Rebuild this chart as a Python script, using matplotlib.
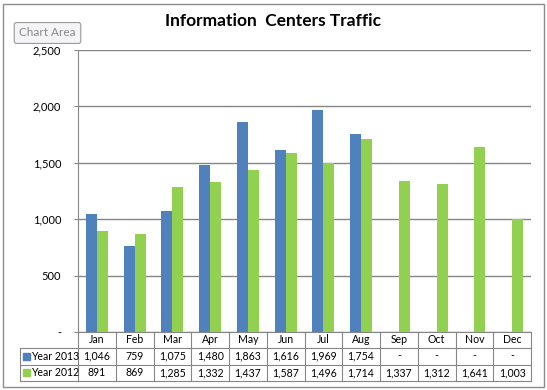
import matplotlib.pyplot as plt
import matplotlib.transforms as mtransforms
from matplotlib.patches import Rectangle

months = ["Jan", "Feb", "Mar", "Apr", "May", "Jun", "Jul", "Aug", "Sep", "Oct", "Nov", "Dec"]
year_2013 = [1046, 759, 1075, 1480, 1863, 1616, 1969, 1754, None, None, None, None]
year_2012 = [891, 869, 1285, 1332, 1437, 1587, 1496, 1714, 1337, 1312, 1641, 1003]
series_names = ["Year 2013", "Year 2012"]
yticks = [0, 500, 1000, 1500, 2000, 2500]

blue = "#4F81BD"
green = "#92D050"
grid_col = "#868686"
plt.rcParams["font.family"] = ["Lato", "DejaVu Sans"]

W, H = 547, 390
fig = plt.figure(figsize=(W / 100, H / 100), dpi=100)
ax = fig.add_axes([78 / W, 1 - 332 / H, (531 - 78) / W, (332 - 50) / H])

x = list(range(len(months)))
bw = 0.29
v13 = [v if v is not None else 0 for v in year_2013]
ax.bar([i - bw / 2 for i in x], v13, width=bw, color=blue, zorder=3)
ax.bar([i + bw / 2 for i in x], year_2012, width=bw, color=green, zorder=3)

ax.set_xlim(-0.5, len(months) - 0.5)
ax.set_ylim(0, 2500)
ax.set_yticks(yticks)
ax.set_yticklabels(["-" if t == 0 else f"{t:,}" for t in yticks], fontsize=8)
ax.tick_params(axis="y", length=3, color=grid_col, pad=9)
ax.set_xticks([])
ax.yaxis.grid(True, color=grid_col, linewidth=1, zorder=0)
for s in ["top", "right", "bottom"]:
    ax.spines[s].set_visible(False)
ax.spines["left"].set_color(grid_col)

# data table under the plot
trans = mtransforms.blended_transform_factory(ax.transData, ax.transAxes)
ph = 332 - 50
pw = 531 - 78
rows = [0, -15.5 / ph, -32.5 / ph, -49 / ph]
lw = 0.8
for r in rows:
    ax.plot([-0.5, 11.5], [r, r], transform=trans, color=grid_col, lw=lw, clip_on=False)
for b in [i - 0.5 for i in range(13)]:
    ax.plot([b, b], [0, rows[3]], transform=trans, color=grid_col, lw=lw, clip_on=False)
left_ax = (20 - 78) / pw
for r in rows[1:]:
    ax.plot([left_ax, 0], [r, r], transform=ax.transAxes, color=grid_col, lw=lw, clip_on=False)
ax.plot([left_ax, left_ax], [rows[1], rows[3]], transform=ax.transAxes, color=grid_col, lw=lw, clip_on=False)

fs = 7.6
for i, m in enumerate(months):
    ax.text(i, (rows[0] + rows[1]) / 2, m, transform=trans, ha="center", va="center", fontsize=fs)
    a = year_2013[i]
    ax.text(i, (rows[1] + rows[2]) / 2, "-" if a is None else f"{a:,}", transform=trans,
            ha="center", va="center", fontsize=fs)
    ax.text(i, (rows[2] + rows[3]) / 2, f"{year_2012[i]:,}", transform=trans,
            ha="center", va="center", fontsize=fs)

for k, (name, col) in enumerate(zip(series_names, [blue, green])):
    yc = (rows[k + 1] + rows[k + 2]) / 2
    ax.add_patch(Rectangle((left_ax + 3 / pw, yc - 3.5 / ph), 7 / pw, 7 / ph,
                           transform=ax.transAxes, color=col, clip_on=False))
    ax.text(left_ax + 11.5 / pw, yc, name, transform=ax.transAxes, ha="left", va="center", fontsize=fs)

fig.text(273 / W, 1 - 21 / H, "Information  Centers Traffic", ha="center", va="center",
         fontsize=12.5, fontweight="bold")

# chart border and "Chart Area" tag
fig.patches.append(Rectangle((2.5 / W, 3.5 / H), 541.5 / W, 383 / H, transform=fig.transFigure,
                             fill=False, edgecolor="#8c8c8c", lw=1))
fig.text(47.5 / W, 1 - 33 / H, "Chart Area", ha="center", va="center", fontsize=8.5, color="#8a8a8a",
         bbox=dict(boxstyle="round,pad=0.42,rounding_size=0.2", fc="#f4f4f6", ec="#9a9a9a", lw=0.8))

fig.savefig("out.png", dpi=100)
